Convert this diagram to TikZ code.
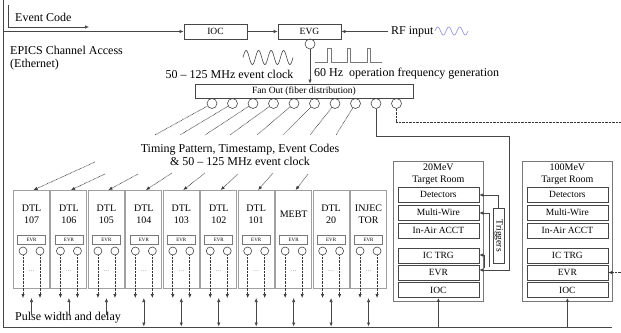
\documentclass[tikz,border=0pt]{standalone}
\usepackage{fontspec}
\setmainfont{Liberation Serif}
\usetikzlibrary{arrows.meta,calc}
\definecolor{ln}{RGB}{70,70,70}
\definecolor{bx}{RGB}{120,120,120}
\definecolor{lbx}{RGB}{160,160,160}
\definecolor{rfc}{RGB}{150,150,220}
\begin{document}
\begin{tikzpicture}[x=1pt,y=-1pt,
  tip/.style={-{Latex[length=4pt,width=3.4pt]}},
  dtip/.style={{Latex[length=4pt,width=3.4pt]}-{Latex[length=4pt,width=3.4pt]}},
  ln/.style={draw=ln, line width=0.6pt},
  dl/.style={draw=ln!80!black, line width=0.65pt, dash pattern=on 0.7pt off 0.7pt},
  sbox/.style={draw=ln, line width=0.7pt, minimum width=63pt, minimum height=15pt, inner sep=0pt, font=\fontsize{9.5}{10}\selectfont},
  dtlbox/.style={draw=lbx, line width=1pt, minimum width=36pt, minimum height=98pt, inner sep=0pt, anchor=north west},
  evrbox/.style={draw=bx, line width=0.6pt, minimum width=28pt, minimum height=9pt, inner sep=0pt, font=\fontsize{5}{5}\selectfont},
  port/.style={circle, draw=ln, line width=0.6pt, minimum size=8pt, inner sep=0pt},
  fport/.style={circle, draw=ln, line width=0.6pt, minimum size=10pt, inner sep=0pt},
  roombox/.style={draw=bx, line width=0.8pt, minimum width=90pt, minimum height=140pt, inner sep=0pt, anchor=north west},
  ibox/.style={draw=ln, line width=0.7pt, minimum width=81pt, minimum height=15pt, inner sep=0pt, font=\fontsize{9.5}{10}\selectfont},
  big/.style={font=\fontsize{12}{13}\selectfont, inner sep=0pt},
  lab/.style={font=\fontsize{10}{12}\selectfont, inner sep=0pt, align=center}
]
\useasboundingbox (0,0) rectangle (621,332);

% frame and bus
\coordinate (ftop) at (3,0);
\coordinate (fbl) at (3,327);
\coordinate (fbr) at (612,327);
\draw[ln] (ftop) -- (fbl) -- (fbr);

% event code
\node[big, anchor=west] (evc) at (15,17) {Event Code};
\coordinate (ec0) at (8,5);
\coordinate (ec1) at (8,27);
\coordinate (ec2) at (89,27);
\draw[ln, tip] (ec0) -- (ec1) -- (ec2);

\node[sbox] (ioc) at (215.5,31.5) {IOC};
\node[sbox] (evg) at (309.5,31.5) {EVG};
\coordinate (ca) at (3,31.5);
\draw[ln, tip] (ca) -- (ioc.west);
\draw[ln, tip] (ioc) -- (evg);
\node[big, anchor=west] (rf) at (391,31.5) {RF input};
\draw[ln, tip] (rf.west) ++(-3,0) coordinate (rfs) -- (evg.east);
\draw[rfc, line width=0.7pt] plot[domain=0:33, samples=80] ({435+\x},{31-4*sin(\x/33*3*360)});

\node[big, anchor=west, align=left] (epics) at (10,58) {EPICS Channel Access\\(Ethernet)};

% clock wave
\draw[ln, line width=0.6pt] plot[domain=0:50, samples=120] ({243+\x},{57.5-7*sin(\x/50*4*360)});
\node[big] (clk) at (229.5,74) {50 -- 125 MHz event clock};
% pulses
\draw[bx, line width=0.8pt] (315,62) -- (327,62) -- (327,48) -- (331,48) -- (331,62) -- (347,62) -- (347,48) -- (350,48) -- (350,62) -- (367,62) -- (367,48) -- (370,48) -- (370,62) -- (382,62);
\node[big, anchor=west] (hz) at (314,74) {60 Hz\ \ operation frequency generation};

\node[fport] (evgp) at (310,44) {};
\node[draw=ln, line width=0.8pt, minimum width=218pt, minimum height=14pt, inner sep=0pt, font=\fontsize{9.5}{10}\selectfont] (fan) at (304,91) {Fan Out (fiber distribution)};
\draw[ln, tip] (evgp) -- (evgp |- fan.north);

\foreach \i in {1,...,10} {
  \node[fport] (fo\i) at ({212+20.5*(\i-1)},103.5) {};
}

% DTL boxes
\foreach \i/\a/\b in {1/DTL/107,2/DTL/106,3/DTL/105,4/DTL/104,5/DTL/103,6/DTL/102,7/DTL/101,9/DTL/20,10/INJEC/TOR} {
  \node[dtlbox] (d\i) at ({13+37.45*(\i-1)},190) {};
  \node[lab] (dt\i) at ($(d\i.north)+(0,24)$) {\a\\\b};
}
\node[dtlbox] (d8) at ({13+37.45*7},190) {};
\node[lab] (dt8) at ($(d8.north)+(0,24)$) {MEBT};

\foreach \i in {1,...,10} {
  \node[evrbox] (e\i) at ($(d\i.north)+(0,49.5)$) {EVR};
  \node[port] (pa\i) at ($(d\i.north)+(-8.5,61)$) {};
  \node[port] (pb\i) at ($(d\i.north)+(8.5,61)$) {};
  \node[text=lbx, font=\fontsize{8}{8}\selectfont, inner sep=0pt] (dots\i) at ($(d\i.north)+(0,81)$) {...};
  \coordinate (qa\i) at ($(d\i.north)+(-8.5,108)$);
  \coordinate (qb\i) at ($(d\i.north)+(8.5,108)$);
  \draw[dl, tip] (pa\i) -- (qa\i);
  \draw[dl, tip] (pb\i) -- (qb\i);
}
% pulse width arrows
\foreach \i in {1,2,3} {
  \coordinate (pu\i) at ($(d\i.north)+(0,108)$);
  \coordinate (pl\i) at ($(d\i.north)+(0,125)$);
  \draw[ln, tip] (pl\i) -- (pu\i);
}
\foreach \i in {4,...,10} {
  \coordinate (pu\i) at ($(d\i.north)+(0,108)$);
  \coordinate (pl\i) at ($(d\i.north)+(0,136.5)$);
  \draw[ln, dtip] (pl\i) -- (pu\i);
}
\node[big, anchor=west] (pwd) at (15,318) {Pulse width and delay};

% fan out dotted lines
\foreach \i/\ux/\sx/\sy in {1/155/95/162,2/180/105/174,3/205/138/174,4/230/172/173,5/257/205/173,6/283/238/174,7/310/273/173,8/336/308/174} {
  \coordinate (ue\i) at (\ux,135);
  \coordinate (ls\i) at (\sx,\sy);
  \draw[dl] (fo\i) -- (ue\i);
  \draw[dl, tip] (ls\i) -- ($(d\i.north)+(2,0)$);
}
\node[big, align=center] (tp) at (240,154.5) {Timing Pattern, Timestamp, Event Codes\\\& 50 -- 125 MHz event clock};

% rooms
\foreach \r/\x/\t in {20/393/20MeV,100/522/100MeV} {
  \node[roombox] (room\r) at (\x,161) {};
  \node[lab] (rt\r) at ($(room\r.north)+(0,13)$) {\t\\Target Room};
  \node[ibox] (det\r) at ($(room\r.north)+(0,33.5)$) {Detectors};
  \node[ibox] (mw\r) at ($(room\r.north)+(0,51.5)$) {Multi-Wire};
  \node[ibox] (acct\r) at ($(room\r.north)+(0,69.5)$) {In-Air ACCT};
  \node[ibox] (ic\r) at ($(room\r.north)+(0,94.5)$) {IC TRG};
  \node[ibox] (evr\r) at ($(room\r.north)+(0,111.5)$) {EVR};
  \node[ibox] (ioc\r) at ($(room\r.north)+(0,129)$) {IOC};
  \draw[ln, line width=1pt, tip] (ioc\r |- fbl) -- (ioc\r.south);
}

% triggers
\node[draw=ln, line width=0.6pt, minimum width=11pt, minimum height=55pt, inner sep=0pt, anchor=north west] (trg) at (493,208) {};
\node[font=\fontsize{9.5}{10}\selectfont, rotate=-90, inner sep=0pt] (trgt) at (trg.center) {Triggers};
\coordinate (t1) at (509,136);
\coordinate (t2) at (509,270);
\draw[ln, tip] (fo9) |- (t1) -- (t2) -- (t2 -| evr20.east);
\coordinate (k1) at (498,195);
\draw[ln, tip] (k1 |- trg.north) -- (k1) -- (k1 -| det20.east);
\coordinate (k2) at (489,213);
\coordinate (k3) at (489,267);
\draw[ln, tip] (k3) -- (k2) -- (k2 -| mw20.east);
\coordinate (k4) at (484,255);
\coordinate (k5) at (484,268);
\draw[ln, tip] (k5) -- (k4) -- (k4 -| ic20.east);

% 100 MeV feed
\coordinate (f1) at (621,122);
\draw[dl] (fo10) |- (f1);
\coordinate (f2) at (621,272.5);
\draw[dl, tip] (f2) -- (evr100.east);
\end{tikzpicture}
\end{document}
